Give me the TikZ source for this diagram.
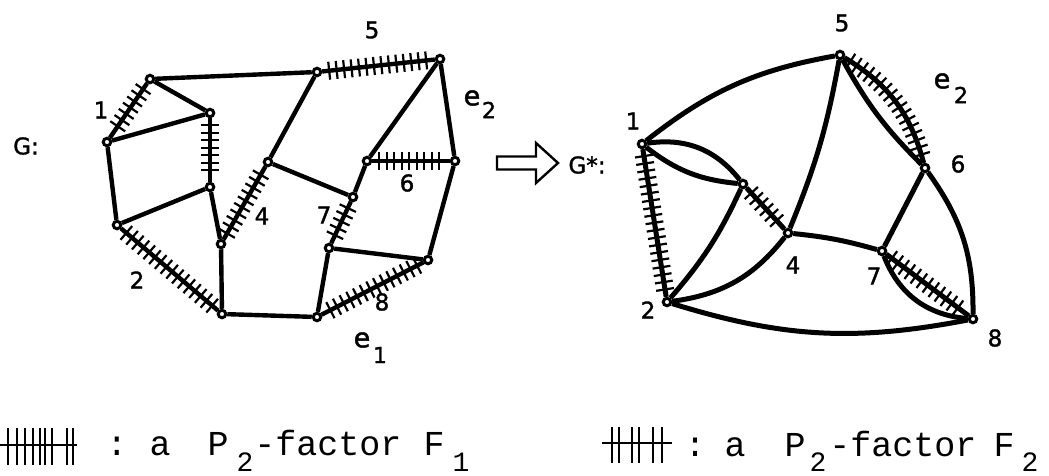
\documentclass[tikz,border=0pt]{standalone}
\usepackage{fontspec}
\usetikzlibrary{decorations.pathreplacing}
\newfontfamily\labfont{DejaVu Sans}[FakeBold=1.5]
\newfontfamily\monofont{Liberation Mono}
\begin{document}
\begin{tikzpicture}[x=1pt,y=-1pt,
  vtx/.style={circle,draw,fill=white,line width=3pt,minimum size=7.5pt,inner sep=0pt},
  ledge/.style={line width=4.4pt},
  redge/.style={line width=5pt},
  hatch/.style={postaction={decorate,draw,line width=2.2pt,
     decoration={ticks,segment length=7.5pt,amplitude=9pt,pre length=7pt,post length=7pt}}},
  lab/.style={font=\labfont\fontsize{23}{23}\selectfont,inner sep=0pt},
  elab/.style={font=\labfont\fontsize{27}{27}\selectfont,inner sep=0pt},
  sub/.style={font=\labfont\fontsize{22}{22}\selectfont,inner sep=0pt},
  legtxt/.style={font=\monofont\fontsize{35}{35}\selectfont,inner sep=0pt,anchor=base},
  legsub/.style={font=\monofont\fontsize{28}{28}\selectfont,inner sep=0pt,anchor=base,text depth=0pt},
  legline/.style={line width=2.8pt},
  legtick/.style={line width=1.6pt}
]
\useasboundingbox (0,0) rectangle (1049,475);
\fill[white] (0,0) rectangle (1049,475);

% ---------- left graph G ----------
\node[vtx] (la) at (150,79) {};
\node[vtx] (lb) at (107,142) {};
\node[vtx] (lc) at (210,113) {};
\node[vtx] (ld) at (317,72) {};
\node[vtx] (le) at (440,59) {};
\node[vtx] (lf) at (268,162) {};
\node[vtx] (lg) at (367,161) {};
\node[vtx] (lh) at (455,161) {};
\node[vtx] (li) at (353,197) {};
\node[vtx] (lc2) at (210,187) {};
\node[vtx] (lj) at (117,225) {};
\node[vtx] (lk) at (221,244) {};
\node[vtx] (ll) at (329,248) {};
\node[vtx] (lm) at (428,260) {};
\node[vtx] (ln) at (222,314) {};
\node[vtx] (lo) at (317,317) {};

\begin{scope}[ledge]
\draw (la) -- (ld);
\draw[hatch] (la) -- (lb);
\draw (la) -- (lc);
\draw (lb) -- (lc);
\draw[hatch] (lc) -- (lc2);
\draw (lb) -- (lj);
\draw (lj) -- (lc2);
\draw[hatch] (lj) -- (ln);
\draw (lc2) -- (lk);
\draw[hatch] (lk) -- (lf);
\draw (lk) -- (ln);
\draw (lf) -- (ld);
\draw (lf) -- (li);
\draw[hatch] (ld) -- (le);
\draw (le) -- (lg);
\draw (le) -- (lh);
\draw[hatch] (lg) -- (lh);
\draw (lg) -- (li);
\draw[hatch] (li) -- (ll);
\draw (ll) -- (lm);
\draw (ll) -- (lo);
\draw[hatch] (lm) -- (lo);
\draw (lh) -- (lm);
\draw (ln) -- (lo);
\end{scope}

\node[lab] (gl) at (26,146) {G:};
\node[lab] (l1) at (101,110) {1};
\node[lab] (l5) at (372,30) {5};
\node[elab] (le2) at (472,98) {e};
\node[sub] (le2s) at (489,110) {2};
\node[lab] (l6) at (407,183) {6};
\node[lab] (l4) at (262,216) {4};
\node[lab] (l7) at (324,215) {7};
\node[lab] (l2) at (137,280) {2};
\node[lab] (l8) at (382,302) {8};
\node[elab] (le1) at (362,340) {e};
\node[sub] (le1s) at (380,355) {1};

% ---------- arrow ----------
\draw[line width=2.4pt,line join=miter,fill=white]
  (497,156.5) -- (536,156.5) -- (536,143) -- (558,163) -- (536,183) -- (536,169.5) -- (497,169.5) -- cycle;
\node[lab] (gstar) at (587,165) {G*:};

% ---------- right graph G* ----------
\node[vtx] (r1) at (642,144) {};
\node[vtx] (r5) at (840,55) {};
\node[vtx] (r6) at (925,168) {};
\node[vtx] (r3) at (743,184) {};
\node[vtx] (r4) at (788,233) {};
\node[vtx] (r7) at (882,251) {};
\node[vtx] (r2) at (667,302) {};
\node[vtx] (r8) at (973,319) {};

\begin{scope}[redge]
\draw (r1) to[bend left=14] (r5);
\draw[hatch] (r1) -- (r2);
\draw (r1) to[bend left=30] (r3);
\draw (r1) to[bend right=16] (r3);
\draw[hatch] (r3) -- (r4);
\draw (r2) to[bend right=8] (r3);
\draw (r4) to[bend right=6] (r5);
\draw (r5) to[bend right=8] (r6);
\draw[hatch] (r5) to[bend left=22] (r6);
\draw (r6) -- (r7);
\draw (r6) to[bend left=18] (r8);
\draw (r4) to[bend left=5] (r7);
\draw (r4) to[bend left=22] (r2);
\draw[hatch] (r7) -- (r8);
\draw (r7) to[bend right=32] (r8);
\draw (r2) to[bend right=14] (r8);
\end{scope}

\node[lab] (q1) at (633,121) {1};
\node[lab] (q5) at (842,23) {5};
\node[elab] (qe) at (942,81) {e};
\node[sub] (qes) at (961,95) {2};
\node[lab] (q6) at (958,164) {6};
\node[lab] (q4) at (793,265) {4};
\node[lab] (q7) at (874,276) {7};
\node[lab] (q2) at (648,310) {2};
\node[lab] (q8) at (995,338) {8};

% ---------- legend ----------
\draw[legline] (0,445) -- (77,445);
\foreach \x in {8,17,25,33,40,45,52,67,73}
  \draw[legtick] (\x,428) -- (\x,465);
\node[legtxt] (c1) at (117,455) {:};
\node[legtxt] (a1) at (160,455) {a};
\node[legtxt] (p1) at (218,455) {P};
\node[legsub] (p1s) at (245,471) {2};
\node[legtxt] (f1) at (328,455) {-factor};
\node[legtxt] (F1) at (434,455) {F};
\node[legsub] (F1s) at (461,471) {1};

\draw[legline] (602,443) -- (672,443);
\foreach \x in {612,619,632,639,653,662}
  \draw[legtick] (\x,427) -- (\x,463);
\node[legtxt] (c2) at (695,456) {:};
\node[legtxt] (a2) at (735,456) {a};
\node[legtxt] (p2) at (795,456) {P};
\node[legsub] (p2s) at (818,471) {2};
\node[legtxt] (f2) at (903,456) {-factor};
\node[legtxt] (F2) at (1004,456) {F};
\node[legsub] (F2s) at (1030,471) {2};
\end{tikzpicture}
\end{document}
